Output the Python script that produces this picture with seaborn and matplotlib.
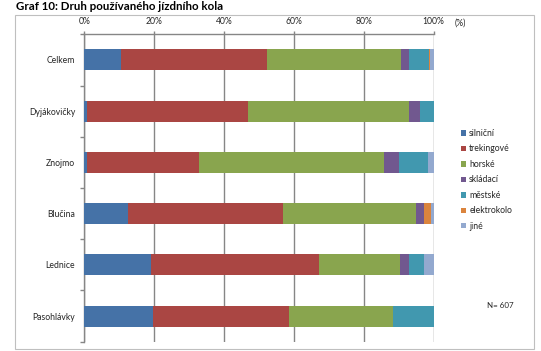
import matplotlib
matplotlib.use('Agg')
import matplotlib.pyplot as plt
import seaborn as sns
import numpy as np
import pandas as pd
from matplotlib.patches import Patch, Rectangle

# data (% of respondents)
places = ['Celkem', 'Dyjákovičky', 'Znojmo', 'Blučina', 'Lednice', 'Pasohlávky']
types = ['silniční', 'trekingové', 'horské', 'skládací', 'městské', 'elektrokolo', 'jiné']
silnicni = [10.4, 0.7, 0.8, 12.4, 19.1, 19.8]
trekingove = [41.9, 46.2, 32.1, 44.5, 48.1, 38.9]
horske = [38.3, 46.1, 53.0, 38.1, 23.3, 29.8]
skladaci = [2.5, 3.1, 4.1, 2.3, 2.6, 0.0]
mestske = [5.5, 3.9, 8.4, 0.0, 4.2, 11.5]
elektrokolo = [0.3, 0.0, 0.0, 2.0, 0.0, 0.0]
jine = [1.1, 0.0, 1.6, 0.7, 2.7, 0.0]
colors = ['#4572A7', '#AA4643', '#89A54E', '#71588F', '#4198AF', '#DB843D', '#93A9CF']

sns.set_style('white')
plt.rcParams['font.family'] = ['Lato', 'DejaVu Sans']

df = pd.DataFrame({'misto': places, 'silniční': silnicni, 'trekingové': trekingove,
                   'horské': horske, 'skládací': skladaci, 'městské': mestske,
                   'elektrokolo': elektrokolo, 'jiné': jine})
cum = df[types].cumsum(axis=1)

fig = plt.figure(figsize=(5.41, 3.51), dpi=100)
ax = fig.add_axes([0.1558, 0.0265, 0.6455, 0.8758])

# stacked bars: draw cumulative totals from the last series backwards
for t, c in reversed(list(zip(types, colors))):
    sns.barplot(x=cum[t], y=df['misto'], color=c, width=0.41, ax=ax,
                saturation=1, edgecolor='none', zorder=3)

ax.set_xlim(0, 100)
ax.set_ylim(5.5, -0.5)
ax.set_xlabel('')
ax.set_ylabel('')
ax.xaxis.tick_top()
ax.set_xticks(np.arange(0, 101, 20))
ax.set_xticklabels([f'{v}%' for v in range(0, 101, 20)])
ax.xaxis.grid(True, color='#868686', lw=1.0, zorder=0)
ax.tick_params(axis='x', which='major', top=True, length=2.5, width=1.0,
               color='#868686', pad=3.5, labelsize=6.2, labelcolor='#262626')
ax.set_yticks(np.arange(len(places)))
ax.set_yticklabels(places)
ax.set_yticks(np.arange(-0.5, len(places)), minor=True)
ax.tick_params(axis='y', which='major', length=0, pad=6.5, labelsize=6.2,
               labelcolor='#262626')
ax.tick_params(axis='y', which='minor', left=True, length=3, width=1.0,
               color='#868686')
for s in ['right', 'bottom']:
    ax.spines[s].set_visible(False)
for s in ['top', 'left']:
    ax.spines[s].set_color('#868686')
    ax.spines[s].set_linewidth(1.0)

fig.text(460 / 541, 1 - 23 / 351, '(%)', fontsize=6.2, color='#262626',
         ha='center', va='center')
fig.text(500 / 541, 1 - 306 / 351, 'N= 607', fontsize=5.8, color='#262626',
         ha='center', va='center')
fig.text(16 / 541, 1 - 6 / 351, 'Graf 10: Druh používaného jízdního kola',
         fontsize=8.3, fontweight='bold', color='black', ha='left', va='center')

handles = [Patch(facecolor=c, edgecolor='none') for c in colors]
fig.legend(handles, types, loc='upper left', bbox_to_anchor=(461 / 541, 1 - 129 / 351),
           frameon=False, fontsize=6.2, handlelength=0.6, handleheight=0.6,
           handletextpad=0.35, labelspacing=0.75, borderpad=0, borderaxespad=0)

fig.patches.append(Rectangle((15 / 541, 1 - 349.3 / 351), 519.3 / 541, 334.6 / 351,
                             transform=fig.transFigure, fill=False,
                             edgecolor='#BFBFBF', lw=0.8))

fig.savefig('out.png', dpi=100)
